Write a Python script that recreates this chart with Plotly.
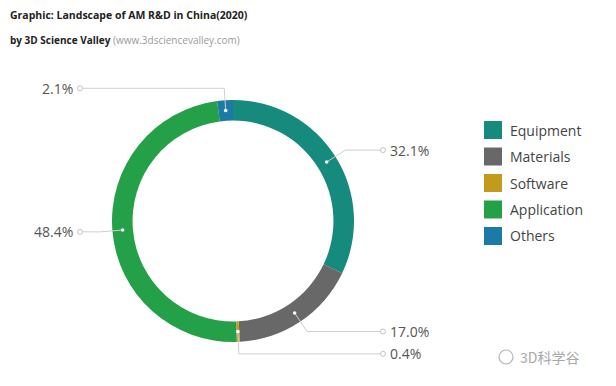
import math
import plotly.graph_objects as go

categories = ["Equipment", "Materials", "Software", "Application", "Others"]
values = [32.1, 17.0, 0.4, 48.4, 2.1]
value_labels = ["32.1%", "17.0%", "0.4%", "48.4%", "2.1%"]
colors = ["#178a7e", "#686868", "#c39a1c", "#24a048", "#1b7aa6"]

W, H = 616, 386
CX, CY, R = 233, 221, 121
HOLE = 0.83


def px(x):
    return x / W


def py(y):
    return 1 - y / H


fig = go.Figure()
fig.add_trace(go.Pie(
    labels=categories, values=values, hole=HOLE, sort=False,
    direction="clockwise", rotation=0,
    marker=dict(colors=colors, line=dict(color="white", width=0)),
    textinfo="none", hoverinfo="label+percent", showlegend=False,
    domain=dict(x=[px(CX - R), px(CX + R)], y=[py(CY + R), py(CY - R)]),
))

shapes = []
annotations = []

# leader lines, dots and labels derived from the data
total = sum(values)
cum = 0.0
R_mid = R * (1 + HOLE) / 2
R_elbow = R + 12
for cat, v, lab in zip(categories, values, value_labels):
    mid = (cum + v / 2) / total * 2 * math.pi
    cum += v
    s, c = math.sin(mid), -math.cos(mid)
    dx, dy = CX + R_mid * s, CY + R_mid * c
    ex, ey = CX + R_elbow * s, CY + R_elbow * c
    right = s >= 0
    endx = 383 if right else 80
    line = dict(color="#cfcfcf", width=1)
    shapes.append(dict(type="line", xref="paper", yref="paper",
                       x0=px(dx), y0=py(dy), x1=px(ex), y1=py(ey), line=line))
    shapes.append(dict(type="line", xref="paper", yref="paper",
                       x0=px(ex), y0=py(ey), x1=px(endx), y1=py(ey), line=line))
    shapes.append(dict(type="circle", xref="paper", yref="paper",
                       x0=px(endx - 2.5), x1=px(endx + 2.5),
                       y0=py(ey + 2.5), y1=py(ey - 2.5),
                       line=dict(color="#c4c4c4", width=1), fillcolor="white"))
    shapes.append(dict(type="circle", xref="paper", yref="paper",
                       x0=px(dx - 1.8), x1=px(dx + 1.8),
                       y0=py(dy + 1.8), y1=py(dy - 1.8),
                       line=dict(width=0), fillcolor="white"))
    annotations.append(dict(
        x=px(endx + 5) if right else px(endx - 5), y=py(ey),
        xref="paper", yref="paper", text=lab, showarrow=False,
        xanchor="left" if right else "right", yanchor="middle",
        font=dict(family="Open Sans", size=14, color="#555555")))

# legend
LEG_X, LEG_Y0, LEG_DY, SQ = 484, 130, 26.5, 18
for i, (cat, col) in enumerate(zip(categories, colors)):
    yc = LEG_Y0 + i * LEG_DY
    shapes.append(dict(type="rect", xref="paper", yref="paper",
                       x0=px(LEG_X), x1=px(LEG_X + SQ),
                       y0=py(yc + SQ / 2), y1=py(yc - SQ / 2),
                       line=dict(width=0), fillcolor=col))
    annotations.append(dict(x=px(LEG_X + SQ + 6), y=py(yc), xref="paper", yref="paper",
                            text=cat, showarrow=False, xanchor="left", yanchor="middle",
                            font=dict(family="Open Sans", size=14, color="#444444")))

# titles
annotations.append(dict(x=px(8), y=py(15), xref="paper", yref="paper",
                        text="<b>Graphic: Landscape of AM R&amp;D in China(2020)</b>",
                        showarrow=False, xanchor="left", yanchor="middle",
                        font=dict(family="Open Sans", size=10.5, color="#222222")))
annotations.append(dict(x=px(8), y=py(40), xref="paper", yref="paper",
                        text="<b>by 3D Science Valley</b> <span style='color:#9a9a9a'>(www.3dsciencevalley.com)</span>",
                        showarrow=False, xanchor="left", yanchor="middle",
                        font=dict(family="Open Sans", size=10, color="#222222")))

# watermark
shapes.append(dict(type="circle", xref="paper", yref="paper",
                   x0=px(499), x1=px(513), y0=py(364), y1=py(350),
                   line=dict(color="#b5b5b5", width=1.2), fillcolor="white"))
annotations.append(dict(x=px(518), y=py(357), xref="paper", yref="paper",
                        text="3D科学谷", showarrow=False, xanchor="left", yanchor="middle",
                        font=dict(family="Noto Sans CJK SC", size=14, color="#a8a8a8")))

fig.update_layout(
    width=W, height=H, margin=dict(l=0, r=0, t=0, b=0),
    paper_bgcolor="white", plot_bgcolor="white",
    shapes=shapes, annotations=annotations, showlegend=False,
)

fig.write_html("out.html", config={"displayModeBar": False},
               post_script="document.body.style.margin='0';document.body.style.padding='0';")
